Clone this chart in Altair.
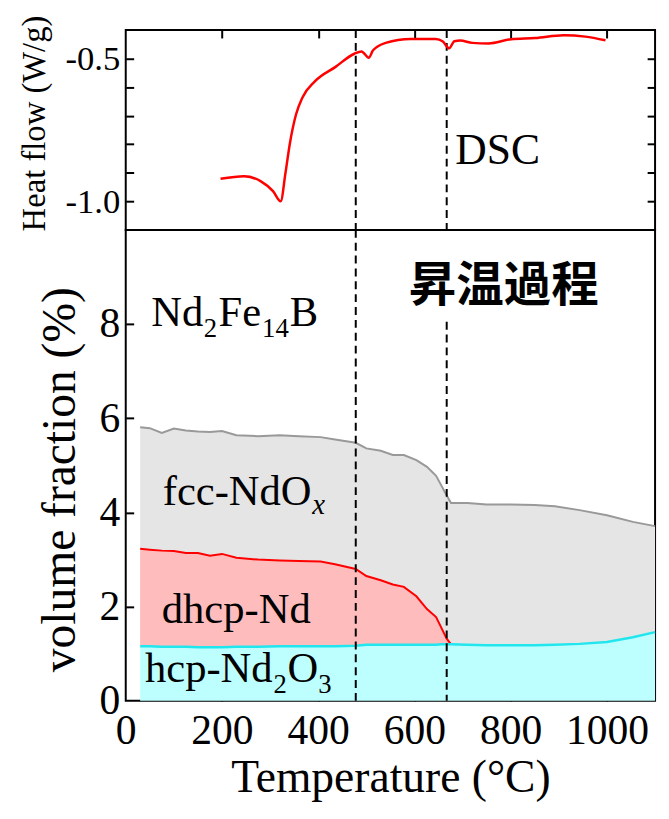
import altair as alt
import pandas as pd

FONT = "Liberation Serif"
CJK = "Noto Sans CJK JP"

# ---------------- data ----------------
# DSC heat flow (top panel)
dsc_T = [197, 246, 281, 306, 322, 332, 341, 354, 367, 393, 436, 475, 490, 505, 514,
         540, 592, 644, 659, 672, 683, 695, 720, 754, 801, 851, 910, 955, 997]
dsc_v = [-0.921, -0.912, -0.930, -0.964, -1.000, -0.900, -0.798, -0.695, -0.637, -0.580,
         -0.529, -0.483, -0.475, -0.497, -0.471, -0.445, -0.431, -0.431, -0.440, -0.464,
         -0.439, -0.437, -0.445, -0.447, -0.432, -0.428, -0.418, -0.423, -0.436]

# transition temperatures (dashed lines)
trans_T = [478, 667]
trans_top = [10.0, 8.05]
trans_bot = [0.0, 0.0]

# volume fraction boundaries (cumulative, %) (bottom panel)
vf_T = [30, 50, 75, 100, 125, 150, 175, 200, 230, 275, 320, 360, 405, 435, 478, 500,
        530, 555, 578, 604, 626, 645, 656, 667, 676, 710, 750, 800, 850, 892, 943,
        1000, 1054, 1100]
hcp_top = [1.16, 1.16, 1.15, 1.15, 1.15, 1.14, 1.14, 1.14, 1.15, 1.15, 1.16, 1.16,
           1.16, 1.16, 1.17, 1.19, 1.19, 1.19, 1.19, 1.19, 1.19, 1.19, 1.20, 1.20,
           1.20, 1.19, 1.18, 1.18, 1.18, 1.19, 1.21, 1.25, 1.35, 1.46]
dhcp_top = [3.23, 3.21, 3.19, 3.18, 3.14, 3.14, 3.08, 3.12, 3.04, 3.00, 2.98, 2.97,
            2.96, 2.90, 2.80, 2.65, 2.56, 2.47, 2.42, 2.22, 1.95, 1.78, 1.55, 1.32,
            1.20] + [None] * 9
fcc_top = [5.81, 5.79, 5.69, 5.78, 5.74, 5.72, 5.71, 5.73, 5.64, 5.62, 5.64, 5.62,
           5.60, 5.55, 5.48, 5.36, 5.31, 5.22, 5.22, 5.11, 4.97, 4.78, 4.57, 4.36,
           4.20, 4.20, 4.17, 4.17, 4.16, 4.13, 4.05, 3.94, 3.80, 3.71]

x_ticks = [200, 400, 600, 800, 1000]
hf_ticks = [-1.0, -0.9, -0.8, -0.7, -0.6, -0.5]
vf_labels = [0, 2, 4, 6, 8]
vf_ticks = [2, 4, 6, 8]

# ---------------- layout ----------------
W = 535
H_TOP = 202
H_BOT = 476

xscale = alt.Scale(domain=[0, 1100], nice=False, zero=False)
top_y = alt.Scale(domain=[-1.1, -0.4], nice=False, zero=False)
bot_y = alt.Scale(domain=[0, 10], nice=False, zero=False)

tick_style = dict(domain=False, grid=False, ticks=True, tickSize=8, tickWidth=2,
                  tickColor="black")
txt_style = dict(labelFont=FONT, titleFont=FONT, labelColor="black", titleColor="black",
                 titleFontWeight="normal")

# ---------------- top panel ----------------
dsc = pd.DataFrame({"T": dsc_T, "v": dsc_v})
label_expr = ("abs(datum.value + 0.5) < 1e-6 || abs(datum.value + 1) < 1e-6 ? "
              "replace(format(datum.value, '.1f'), '\u2212', '-') : ''")

rules_top = alt.Chart(pd.DataFrame({"T": trans_T})).mark_rule(
    color="black", strokeWidth=2, strokeDash=[8, 5]
).encode(x=alt.X("T:Q", scale=xscale, axis=None))

dsc_line = alt.Chart(dsc).mark_line(color="#ff0000", strokeWidth=2.5,
                                    interpolate="monotone").encode(
    x=alt.X("T:Q", scale=xscale,
            axis=alt.Axis(orient="bottom", offset=-H_TOP, values=x_ticks, labels=False,
                          title=None, **tick_style)),
    y=alt.Y("v:Q", scale=top_y,
            axis=alt.Axis(orient="right", offset=-W, values=hf_ticks, labelExpr=label_expr,
                          labelAlign="right", labelPadding=-14, labelFontSize=35,
                          labelFlush=False, labelOverlap=False,
                          title="Heat flow (W/g)", titleAngle=270, titleX=-82, titleY=94,
                          titleBaseline="alphabetic", titleAlign="center",
                          titleFontSize=33, **tick_style, **txt_style)),
)

dsc_txt = alt.Chart(pd.DataFrame({"T": [685], "v": [-0.87], "t": ["DSC"]})).mark_text(
    align="left", baseline="alphabetic", font=FONT, fontSize=44, color="black"
).encode(
    x=alt.X("T:Q", scale=xscale, axis=None),
    y=alt.Y("v:Q", scale=top_y,
            axis=alt.Axis(orient="left", offset=-W, values=hf_ticks, labels=False,
                          title=None, **tick_style)),
    text="t:N",
)

top = alt.layer(rules_top, dsc_line, dsc_txt).resolve_axis(
    x="independent", y="independent"
).properties(width=W, height=H_TOP)

# ---------------- bottom panel ----------------
vf = pd.DataFrame({"T": vf_T, "hcp": hcp_top, "dhcp": dhcp_top, "fcc": fcc_top})
vf_d = vf.dropna()

gray_area = alt.Chart(vf).mark_area(color="#e5e5e5").encode(
    x=alt.X("T:Q", scale=xscale,
            axis=alt.Axis(orient="bottom", values=[0] + x_ticks, ticks=False, tickSize=0,
                          domain=False, grid=False, labelFontSize=42, labelPadding=10,
                          labelFlush=False, labelOverlap=False, format="d",
                          title="Temperature (\u00b0C)", titleFontSize=46, titleY=92,
                          titleBaseline="alphabetic", **txt_style)),
    y=alt.Y("fcc:Q", scale=bot_y,
            axis=alt.Axis(orient="left", values=vf_labels, ticks=False, tickSize=0,
                          domain=False, grid=False, labelFontSize=42, labelPadding=6,
                          labelFlush=False, labelOverlap=False, format="d",
                          title="volume fraction (%)", titleAngle=270, titleX=-52,
                          titleY=252, titleBaseline="alphabetic", titleAlign="center",
                          titleFontSize=48, **txt_style)),
    y2="hcp:Q",
)

pink_area = alt.Chart(vf_d).mark_area(color="#ffbcbc").encode(
    x=alt.X("T:Q", scale=xscale,
            axis=alt.Axis(orient="top", offset=-H_BOT, values=x_ticks, labels=False,
                          title=None, **tick_style)),
    y=alt.Y("dhcp:Q", scale=bot_y,
            axis=alt.Axis(orient="right", offset=-W, values=vf_ticks, labels=False,
                          title=None, **tick_style)),
    y2="hcp:Q",
)

cyan_area = alt.Chart(vf).mark_area(color="#bdffff").encode(
    x=alt.X("T:Q", scale=xscale, axis=None),
    y=alt.Y("hcp:Q", scale=bot_y, axis=None),
)

gray_line = alt.Chart(vf).mark_line(color="#999999", strokeWidth=2).encode(
    x=alt.X("T:Q", scale=xscale, axis=None),
    y=alt.Y("fcc:Q", scale=bot_y, axis=None),
)
red_line = alt.Chart(vf_d).mark_line(color="#ff0000", strokeWidth=2).encode(
    x=alt.X("T:Q", scale=xscale, axis=None),
    y=alt.Y("dhcp:Q", scale=bot_y, axis=None),
)
cyan_line = alt.Chart(vf).mark_line(color="#22e6ee", strokeWidth=2.5).encode(
    x=alt.X("T:Q", scale=xscale, axis=None),
    y=alt.Y("hcp:Q", scale=bot_y, axis=None),
)

rules_bot = alt.Chart(pd.DataFrame({"T": trans_T, "top": trans_top, "bot": trans_bot})).mark_rule(
    color="black", strokeWidth=2, strokeDash=[8, 5]
).encode(
    x=alt.X("T:Q", scale=xscale, axis=None),
    y=alt.Y("top:Q", scale=bot_y, axis=None),
    y2="bot:Q",
)


def rich_label(T, v, parts, scale):
    """parts: list of (text, dx, dy, size, style)"""
    src = pd.DataFrame({"T": [T], "v": [v]})
    layers = []
    for txt, dx, dy, size, style in parts:
        layers.append(
            alt.Chart(src).mark_text(
                align="left", baseline="alphabetic", font=FONT, fontSize=size,
                fontStyle=style, color="black", dx=dx, dy=dy
            ).encode(
                x=alt.X("T:Q", scale=xscale, axis=None),
                y=alt.Y("v:Q", scale=scale, axis=None),
                text=alt.value(txt),
            )
        )
    return layers


MAIN = 43
SUB = 27
labels = []
labels += rich_label(53, 7.97, [("Nd", 0, 0, MAIN, "normal"), ("2", 53, 12, SUB, "normal"),
                                ("Fe", 68, 0, MAIN, "normal"), ("14", 112, 12, SUB, "normal"),
                                ("B", 140, 0, MAIN, "normal")], bot_y)
labels += rich_label(77, 4.15, [("fcc-NdO", 0, 0, MAIN, "normal"),
                                ("x", 151, 9, SUB + 2, "italic")], bot_y)
labels += rich_label(75, 1.645, [("dhcp-Nd", 0, 0, MAIN, "normal")], bot_y)
labels += rich_label(40, 0.39, [("hcp-Nd", 0, 0, MAIN, "normal"), ("2", 130, 11, SUB, "normal"),
                                ("O", 144, 0, MAIN, "normal"), ("3", 175, 11, SUB, "normal")], bot_y)

jp_txt = alt.Chart(pd.DataFrame({"T": [588], "v": [8.49], "t": ["昇温過程"]})).mark_text(
    align="left", baseline="alphabetic", font=CJK, fontSize=48, fontWeight="bold",
    color="black"
).encode(
    x=alt.X("T:Q", scale=xscale, axis=None),
    y=alt.Y("v:Q", scale=bot_y, axis=None),
    text="t:N",
)

bottom = alt.layer(
    gray_area, pink_area, cyan_area, gray_line, red_line, cyan_line, rules_bot,
    *labels, jp_txt
).resolve_axis(x="independent", y="independent").properties(width=W, height=H_BOT)

chart = alt.vconcat(top, bottom, spacing=0, bounds="flush").properties(
    padding={"left": 10, "top": 1, "right": 0, "bottom": 0},
    background="white",
).configure_view(
    stroke="black", strokeWidth=2
).configure_axis(**txt_style)

chart.save("out.html", embed_options={"renderer": "svg", "actions": False})
